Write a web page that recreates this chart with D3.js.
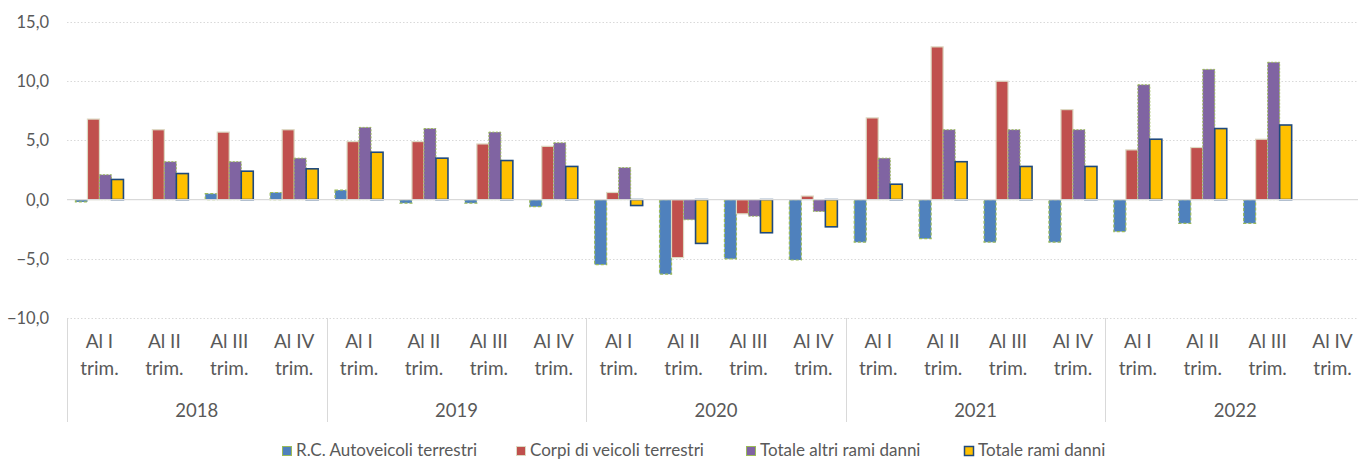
<!DOCTYPE html>
<html>
<head>
<meta charset="utf-8">
<script src="https://cdn.jsdelivr.net/npm/d3@7"></script>
<style>
  body { margin: 0; background: #fff; }
  svg text { font-family: Lato, "Open Sans", sans-serif; fill: #595959; }
</style>
</head>
<body>
<svg id="chart" width="1358" height="459"></svg>
<script>
const years = ["2018", "2019", "2020", "2021", "2022"];
const quarters = ["Al I", "Al II", "Al III", "Al IV"];
const seriesNames = ["R.C. Autoveicoli terrestri", "Corpi di veicoli terrestri",
                     "Totale altri rami danni", "Totale rami danni"];

// one value per quarter, 2018 Q1 .. 2022 Q4 (null = not available)
const rcAuto      = [-0.2, 0.0, 0.5, 0.6,  0.8, -0.3, -0.3, -0.6,  -5.5, -6.3, -5.0, -5.1,  -3.6, -3.3, -3.6, -3.6,  -2.7, -2.0, -2.0, null];
const corpiVeic   = [ 6.8, 5.9, 5.7, 5.9,  4.9,  4.9,  4.7,  4.5,   0.6, -4.9, -1.2,  0.3,   6.9, 12.9, 10.0,  7.6,   4.2,  4.4,  5.1, null];
const altriRami   = [ 2.1, 3.2, 3.2, 3.5,  6.1,  6.0,  5.7,  4.8,   2.7, -1.7, -1.4, -1.0,   3.5,  5.9,  5.9,  5.9,   9.7, 11.0, 11.6, null];
const totaleRami  = [ 1.7, 2.2, 2.4, 2.6,  4.0,  3.5,  3.3,  2.8,  -0.5, -3.7, -2.8, -2.3,   1.3,  3.2,  2.8,  2.8,   5.1,  6.0,  6.3, null];

const yTicks = [-10, -5, 0, 5, 10, 15];

const fills   = ["#4F81BD", "#C0504D", "#8064A2", "#FFC000"];
const strokes = ["#9BBB59", "#DDD9C3", "#9BBB59", "#1F497D"];
const dashes  = ["3,2", null, "2,1.5", null];
const strokeW = [1.2, 1.2, 1, 1.6];

const svg = d3.select("#chart");
const plotLeft = 67, plotRight = 1365, plotTop = 22, plotBottom = 318;

const cats = [];
years.forEach(function(yr) { quarters.forEach(function(q) { cats.push(yr + "|" + q); }); });

const allSeries = [rcAuto, corpiVeic, altriRami, totaleRami];

const x0 = d3.scaleBand().domain(cats).range([plotLeft, plotRight]);
const pad = x0.bandwidth() * 0.13;
const x1 = d3.scaleBand().domain(d3.range(4)).range([pad, x0.bandwidth() - pad]);
const y = d3.scaleLinear().domain([-10, 15]).range([plotBottom, plotTop]);

// gridlines
svg.append("g").selectAll("line")
  .data(yTicks.filter(function(t) { return t !== 0; }))
  .enter().append("line")
    .attr("x1", plotLeft).attr("x2", plotRight)
    .attr("y1", function(d) { return Math.round(y(d)) + 0.5; })
    .attr("y2", function(d) { return Math.round(y(d)) + 0.5; })
    .attr("stroke", "#d9d9d9")
    .attr("stroke-width", 1)
    .attr("stroke-dasharray", "1.5,2");

// y labels
svg.append("g").selectAll("text")
  .data(yTicks)
  .enter().append("text")
    .attr("x", 49)
    .attr("y", function(d) { return y(d) + 6; })
    .attr("text-anchor", "end")
    .style("font-size", "16.5px")
    .text(function(d) { return d3.format(".1f")(d).replace(".", ","); });

// bars
const rows = [];
allSeries.forEach(function(arr, s) {
  arr.forEach(function(v, i) {
    if (v !== null) rows.push({ s: s, cat: cats[i], v: v });
  });
});

svg.append("g").selectAll("rect")
  .data(rows)
  .enter().append("rect")
    .attr("x", function(d) { return x0(d.cat) + x1(d.s); })
    .attr("width", x1.bandwidth())
    .attr("y", function(d) { return y(Math.max(0, d.v)); })
    .attr("height", function(d) { return Math.abs(y(d.v) - y(0)); })
    .attr("fill", function(d) { return fills[d.s]; })
    .attr("stroke", function(d) { return strokes[d.s]; })
    .attr("stroke-width", function(d) { return strokeW[d.s]; })
    .attr("stroke-dasharray", function(d) { return dashes[d.s]; });

// zero line
svg.append("line")
  .attr("x1", plotLeft).attr("x2", plotRight)
  .attr("y1", y(0)).attr("y2", y(0))
  .attr("stroke", "#d9d9d9").attr("stroke-width", 1.3);

// category axis: quarter labels
const qLab = svg.append("g").selectAll("text")
  .data(cats)
  .enter().append("text")
    .attr("x", function(d) { return x0(d) + x0.bandwidth() / 2; })
    .attr("text-anchor", "middle")
    .style("font-size", "19px");
qLab.append("tspan")
  .attr("x", function(d) { return x0(d) + x0.bandwidth() / 2; })
  .attr("y", 348)
  .text(function(d) { return d.split("|")[1]; });
qLab.append("tspan")
  .attr("x", function(d) { return x0(d) + x0.bandwidth() / 2; })
  .attr("y", 375)
  .text("trim.");

// year labels and separators
const yearW = x0.bandwidth() * 4;
svg.append("g").selectAll("text")
  .data(years)
  .enter().append("text")
    .attr("x", function(d, i) { return plotLeft + yearW * i + yearW / 2; })
    .attr("y", 417)
    .attr("text-anchor", "middle")
    .style("font-size", "18.5px")
    .text(function(d) { return d; });

svg.append("g").selectAll("line")
  .data(d3.range(years.length + 1))
  .enter().append("line")
    .attr("x1", function(d) { return Math.round(plotLeft + yearW * d) + 0.5; })
    .attr("x2", function(d) { return Math.round(plotLeft + yearW * d) + 0.5; })
    .attr("y1", plotBottom).attr("y2", 422)
    .attr("stroke", "#d9d9d9").attr("stroke-width", 1);

// legend
const legendX = [282, 516, 746, 964];
const leg = svg.append("g").selectAll("g")
  .data(seriesNames)
  .enter().append("g")
    .attr("transform", function(d, i) { return "translate(" + legendX[i] + ",446)"; });
leg.append("rect")
  .attr("x", 0.5).attr("y", 0.5)
  .attr("width", 9).attr("height", 9)
  .attr("fill", function(d, i) { return fills[i]; })
  .attr("stroke", function(d, i) { return strokes[i]; })
  .attr("stroke-width", function(d, i) { return i === 3 ? 1.5 : 1; });
leg.append("text")
  .attr("x", 14).attr("y", 10)
  .style("font-size", "17px")
  .text(function(d) { return d; });
</script>
</body>
</html>
